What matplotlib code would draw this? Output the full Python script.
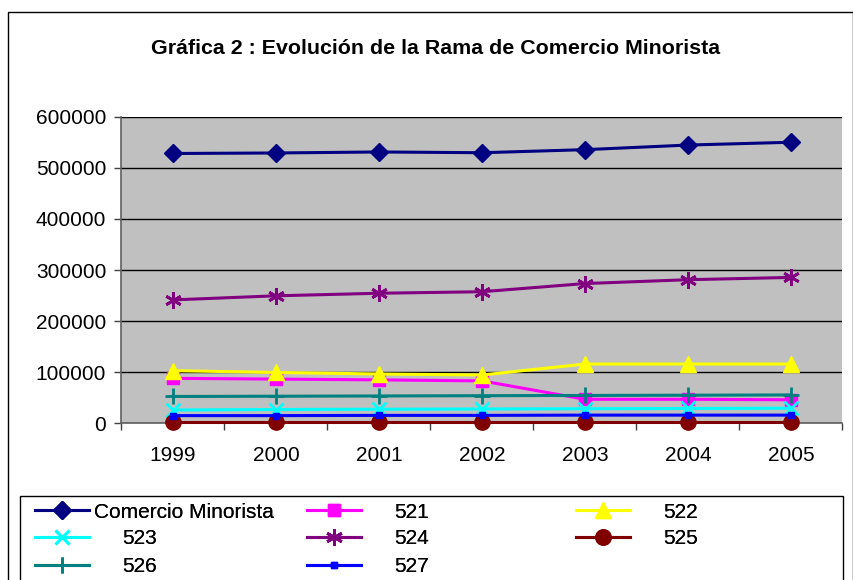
"""Gráfica 2: evolución de la rama de comercio minorista, 1999-2005."""

import matplotlib

matplotlib.use("Agg")
import matplotlib.pyplot as plt
from matplotlib.lines import Line2D
from matplotlib.patches import Rectangle
from matplotlib.ticker import FixedLocator, MultipleLocator

plt.rcParams["font.family"] = ["Liberation Sans", "DejaVu Sans"]

years = ["1999", "2000", "2001", "2002", "2003", "2004", "2005"]

comercio_minorista = [528000, 529000, 531000, 529500, 535500, 544500, 550000]
s521 = [88000, 86500, 85000, 83000, 47000, 47000, 46000]
s522 = [103000, 99500, 96500, 94500, 116000, 116000, 116000]
s523 = [26000, 27000, 27500, 28000, 28500, 29000, 29500]
s524 = [241500, 249500, 254500, 257500, 273500, 281000, 285500]
s525 = [3000, 3000, 3000, 3000, 3000, 3000, 3000]
s526 = [52500, 53000, 53500, 54000, 54500, 55000, 55500]
s527 = [15000, 15000, 15500, 15500, 16000, 16000, 16000]

series = [
    ("Comercio Minorista", comercio_minorista, "#000080", "D", 9),
    ("521", s521, "#FF00FF", "s", 9),
    ("522", s522, "#FFFF00", "^", 11),
    ("523", s523, "#00FFFF", "x", 10),
    ("524", s524, "#800080", (6, 2, 0), 12),
    ("525", s525, "#800000", "o", 11),
    ("526", s526, "#008080", "+", 12),
    ("527", s527, "#0000FF", "s", 4),
]

W, H = 854, 580
fig = plt.figure(figsize=(W / 100, H / 100), dpi=100)
ax = fig.add_axes([121.5 / W, 1 - 423.3 / H, 721 / W, 306.6 / H])
ax.set_facecolor("#C0C0C0")

x = list(range(len(years)))
handles = []
for label, values, color, marker, ms in series:
    mew = 2.0 if marker in ("x", "+") or isinstance(marker, tuple) else 1.0
    (ln,) = ax.plot(
        x, values, color=color, linewidth=2.2, marker=marker, markersize=ms,
        markeredgewidth=mew, markerfacecolor=color, markeredgecolor=color,
        label=label, clip_on=False, zorder=3,
    )
    handles.append(ln)

ax.set_xlim(-0.5, len(years) - 0.5)
ax.set_ylim(0, 600000)
ax.yaxis.set_major_locator(MultipleLocator(100000))
ax.yaxis.grid(True, color="black", linewidth=1.0)
ax.set_axisbelow(True)

ax.set_xticks(x, labels=years)
ax.xaxis.set_minor_locator(FixedLocator([i - 0.5 for i in range(len(years) + 1)]))
ax.tick_params(axis="x", which="major", length=0, pad=16, labelsize=15)
ax.tick_params(axis="x", which="minor", length=5, width=1, direction="out", color="#404040")
ax.tick_params(axis="y", length=5, width=1, direction="out", pad=6, labelsize=15, color="#404040")

for side in ("top", "right"):
    ax.spines[side].set_visible(False)
for side in ("left", "bottom"):
    ax.spines[side].set_color("#606060")
    ax.spines[side].set_linewidth(1.2)

fig.text(436 / W, 1 - 48 / H, "Gráfica 2 : Evolución de la Rama de Comercio Minorista",
         ha="center", va="center", fontsize=15.4, fontweight="bold")

# chart outer border and legend frame
fig.add_artist(Rectangle((8 / W, -0.1), 845 / W, 1.1 - 12 / H, transform=fig.transFigure,
                         fill=False, edgecolor="black", linewidth=1.0))
fig.add_artist(Rectangle((20 / W, -0.1), 823 / W, 0.1 + 1 - 496 / H, transform=fig.transFigure,
                         fill=False, edgecolor="black", linewidth=1.0))

# legend laid out row-wise in three columns, one entry per legend box
col_x = [35, 307, 576]
row_y = [512, 539, 567]
for i, (ln, (label, *_)) in enumerate(zip(handles, series)):
    row, col = divmod(i, 3)
    handle = Line2D([], [], color=ln.get_color(), linewidth=2.2,
                    marker=ln.get_marker(), markersize=ln.get_markersize(),
                    markeredgewidth=ln.get_markeredgewidth(),
                    markerfacecolor=ln.get_color(), markeredgecolor=ln.get_color())
    leg = fig.legend([handle], [label], loc="center left",
                     bbox_to_anchor=(col_x[col] / W, 1 - row_y[row] / H),
                     frameon=False, fontsize=15, handlelength=2.6,
                     handletextpad=0.25 if i == 0 else 1.6,
                     borderpad=0, borderaxespad=0)
    fig.add_artist(leg)

fig.savefig("out.png", dpi=100)
